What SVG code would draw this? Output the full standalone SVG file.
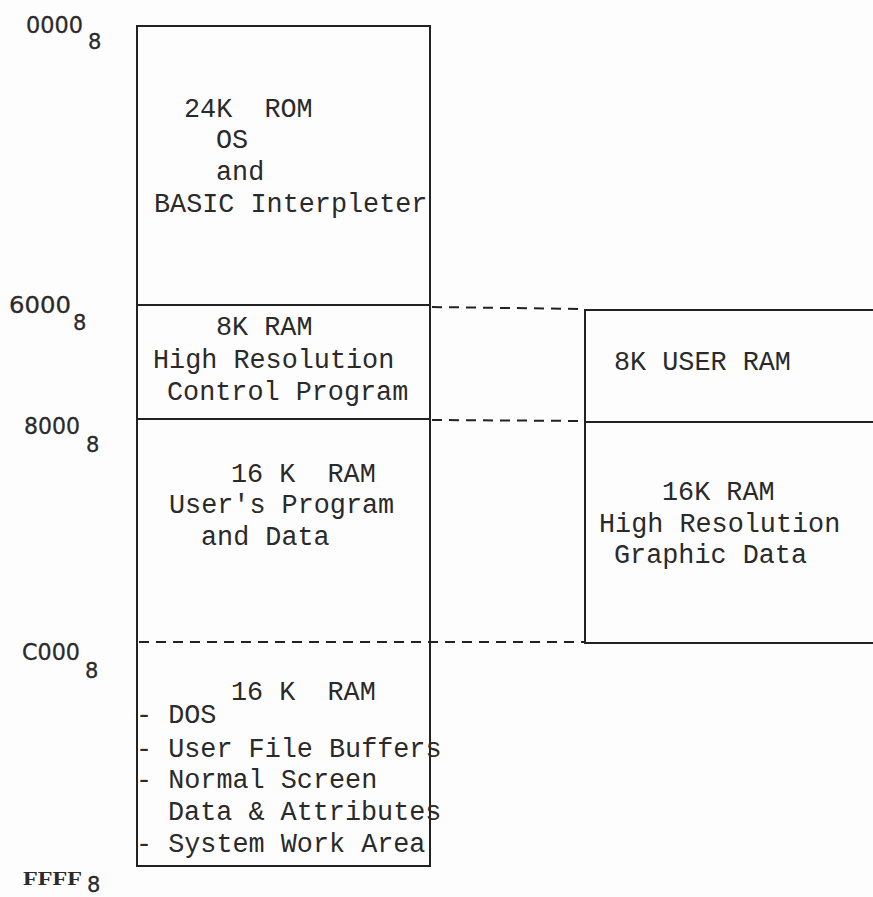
<svg xmlns="http://www.w3.org/2000/svg" width="873" height="897" viewBox="0 0 873 897">
<style>
.box{fill:none;stroke:#222;stroke-width:2}
.sep{stroke:#222;stroke-width:2}
.dash{stroke:#222;stroke-width:2;stroke-dasharray:10 7;fill:none}
.t{font-family:"Liberation Mono","DejaVu Sans Mono",monospace;font-size:26.8px;fill:#2a2a2a}
.addr{font-family:"DejaVu Sans","Liberation Sans",sans-serif;font-size:23.5px;fill:#2a2a2a;stroke:#2a2a2a;stroke-width:0.3}
.sub{font-family:"DejaVu Sans","Liberation Sans",sans-serif;font-size:21px;fill:#2a2a2a;stroke:#2a2a2a;stroke-width:0.3}
.addrs{font-family:"Liberation Serif","DejaVu Serif",serif;font-size:19px;font-weight:bold;fill:#2a2a2a}
</style>
<rect x="0" y="0" width="873" height="897" fill="#fefdfd"/>

<g id="left-map">
<rect class="box" x="137" y="26" width="293" height="840"/>
</g>

<g id="rom">
<text class="t" x="184" y="117" xml:space="preserve">24K  ROM</text>
<text class="t" x="216" y="148">OS</text>
<text class="t" x="216" y="180">and</text>
<text class="t" x="154" y="212">BASIC Interpleter</text>
</g>

<g id="hires-control">
<line class="sep" x1="137" y1="305" x2="430" y2="305"/>
<text class="t" x="216" y="335">8K RAM</text>
<text class="t" x="153" y="368">High Resolution</text>
<text class="t" x="167" y="400">Control Program</text>
</g>

<g id="user-program">
<line class="sep" x1="137" y1="419" x2="430" y2="419"/>
<text class="t" x="231" y="482" xml:space="preserve">16 K  RAM</text>
<text class="t" x="169" y="513">User's Program</text>
<text class="t" x="201" y="545">and Data</text>
</g>

<g id="dos-ram">
<text class="t" x="231" y="700" xml:space="preserve">16 K  RAM</text>
<text class="t" x="136" y="723">- DOS</text>
<text class="t" x="136" y="757">- User File Buffers</text>
<text class="t" x="136" y="788">- Normal Screen</text>
<text class="t" x="168" y="820">Data &amp; Attributes</text>
<text class="t" x="136" y="852">- System Work Area</text>
</g>

<g id="right-map">
<path class="box" d="M880 310 L585 310 L585 643 L880 643"/>
</g>

<g id="user-ram-8k">
<text class="t" x="614" y="370">8K USER RAM</text>
</g>

<g id="hires-graphic">
<line class="sep" x1="585" y1="422" x2="880" y2="422"/>
<text class="t" x="662" y="500">16K RAM</text>
<text class="t" x="599" y="532">High Resolution</text>
<text class="t" x="614" y="563">Graphic Data</text>
</g>

<g id="connectors">
<line class="dash" x1="432" y1="307" x2="585" y2="309"/>
<line class="dash" x1="432" y1="420" x2="585" y2="421"/>
<line class="dash" x1="139" y1="642" x2="585" y2="642"/>
</g>

<g id="addresses">
<text class="addr" x="26" y="33" textLength="57" lengthAdjust="spacingAndGlyphs">0000</text><text class="sub" x="88" y="49">8</text>
<text class="addr" x="9" y="313" textLength="62" lengthAdjust="spacingAndGlyphs">6000</text><text class="sub" x="73" y="330">8</text>
<text class="addr" x="24" y="434" textLength="56" lengthAdjust="spacingAndGlyphs">8000</text><text class="sub" x="86" y="452">8</text>
<text class="addr" x="22" y="660" textLength="58" lengthAdjust="spacingAndGlyphs">C000</text><text class="sub" x="85" y="678">8</text>
<text class="addrs" x="23" y="885" textLength="59" lengthAdjust="spacingAndGlyphs">FFFF</text><text class="sub" x="87" y="892" font-size="15">8</text>
</g>
</svg>
